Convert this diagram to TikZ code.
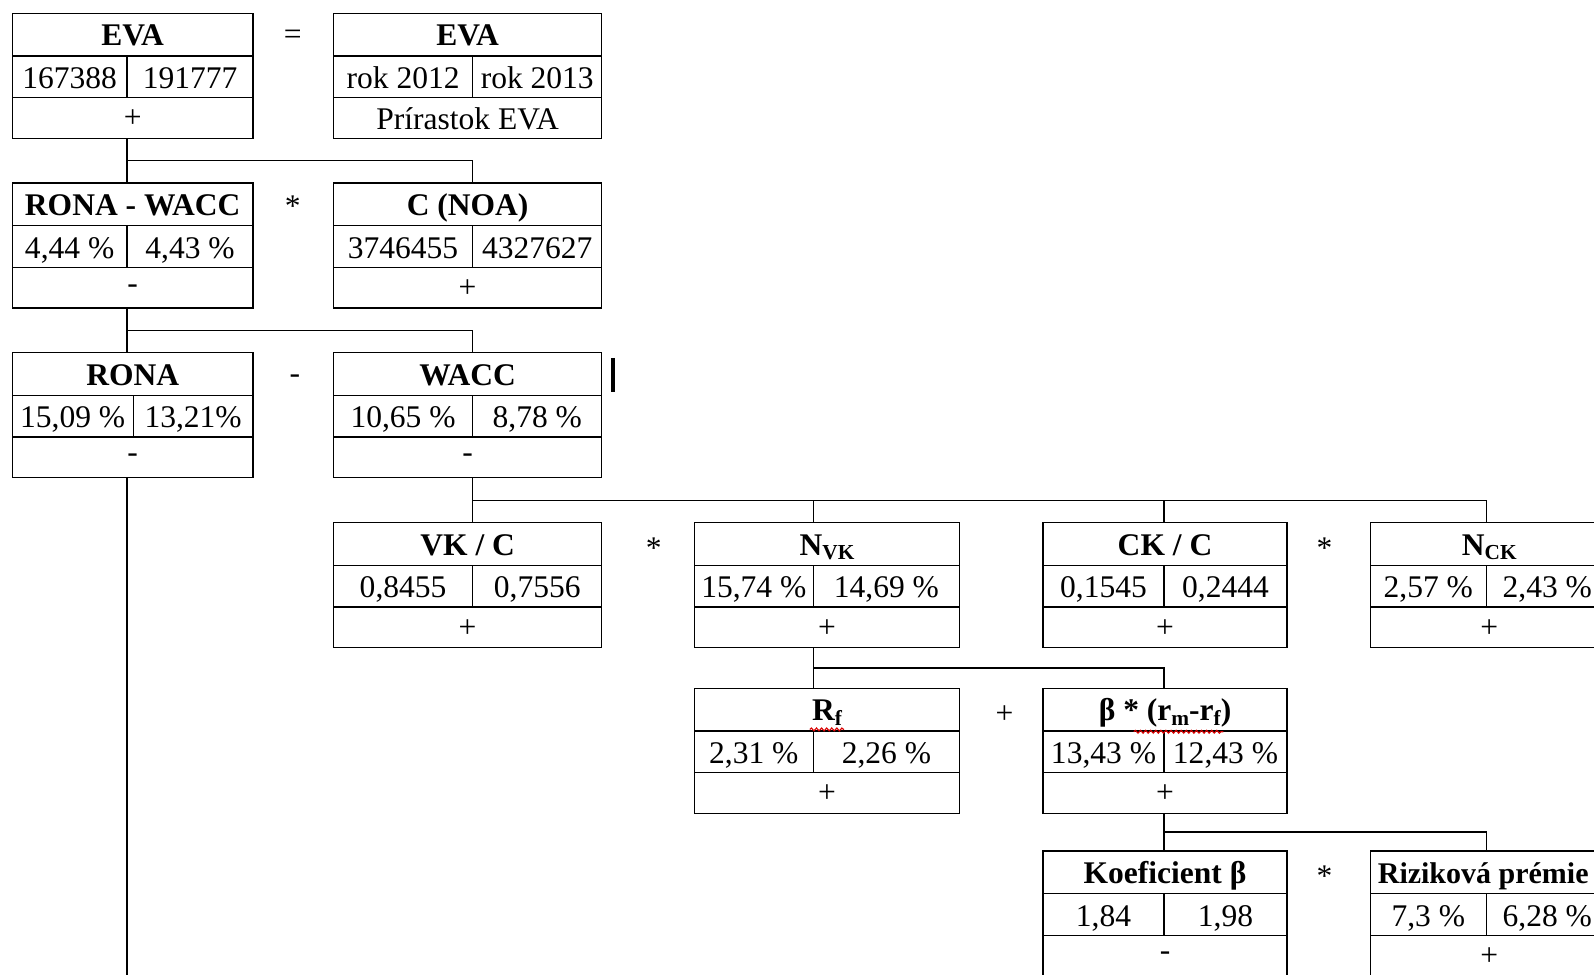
\documentclass[tikz,border=0pt]{standalone}
\usepackage{fontspec}
\setmainfont{Liberation Serif}
\usetikzlibrary{calc,decorations.pathmorphing}

\tikzset{
  frame/.style={draw, line width=1.3pt, rectangle, inner sep=0pt, outer sep=0pt, anchor=north west},
  rule/.style={line width=1.3pt},
  conn/.style={line width=1.3pt},
  ttl/.style={font=\fontsize{31}{34}\selectfont\bfseries, inner sep=0pt, anchor=base},
  val/.style={font=\fontsize{31}{34}\selectfont, inner sep=0pt, anchor=base},
  sgn/.style={font=\fontsize{31}{34}\selectfont, inner sep=0pt},
  op/.style={font=\fontsize{31}{34}\selectfont, inner sep=0pt},
  wavy/.style={red!85!black, line width=1.1pt, decorate, decoration={snake, amplitude=1.4pt, segment length=5pt}},
  cursorbar/.style={line width=3.5pt}
}

% name, x1, x2, xdiv, ytop, title, left, right, bottom
\newcommand{\ebox}[9]{%
  \node[frame, minimum width={(#3-#2)*1pt}, minimum height=123pt] (#1) at (#2,#5) {};
  \draw[rule] (#2,{#5+42}) -- (#3,{#5+42});
  \draw[rule] (#2,{#5+83}) -- (#3,{#5+83});
  \draw[rule] (#4,{#5+42}) -- (#4,{#5+83});
  \node[ttl] (#1-t) at ({(#2+#3)/2},{#5+32}) {#6};
  \node[val] (#1-l) at ({(#2+#4)/2},{#5+74}) {#7};
  \node[val] (#1-r) at ({(#4+#3)/2},{#5+74}) {#8};
  \node[sgn] (#1-b) at ({(#2+#3)/2},{#5+104}) {#9};
  \coordinate (#1-n) at (#4,#5);
  \coordinate (#1-s) at (#4,{#5+123});
}
\newcommand{\subx}[1]{\raisebox{-0.14em}{\fontsize{21}{21}\selectfont #1}}

\begin{document}
\begin{tikzpicture}[x=1pt,y=-1pt]
\clip (0,0) rectangle (1568,959);

% row 1
\ebox{b1}{12}{249}{125}{13}{EVA}{167388}{191777}{+}
\ebox{b2}{328}{592}{465}{13}{EVA}{rok 2012}{rok 2013}{Prírastok EVA}
\node[op] (o1) at (288,37) {=};

% row 2
\ebox{b3}{12}{249}{125}{180}{RONA - WACC}{4,44 \%}{4,43 \%}{-}
\ebox{b4}{328}{592}{465}{180}{C (NOA)}{3746455}{4327627}{+}
\node[op] (o2) at (288,203) {*};

% row 3
\ebox{b5}{12}{249}{131}{347}{RONA}{15,09 \%}{13,21\%}{-}
\ebox{b6}{328}{592}{465}{347}{WACC}{10,65 \%}{8,78 \%}{-}
\node[op] (o3) at (290,373) {-};
\coordinate (b5-n2) at (125,347);
\coordinate (b5-s2) at (125,470);
\coordinate (leftend) at (125,975);
\draw[cursorbar] (603,352) -- (603,386);

% row 4
\ebox{b7}{328}{592}{465}{514}{VK / C}{0,8455}{0,7556}{+}
\ebox{b8}{683}{944}{800}{514}{N\subx{VK}}{15,74 \%}{14,69 \%}{+}
\ebox{b9}{1026}{1266}{1145}{514}{CK / C}{0,1545}{0,2444}{+}
\ebox{b10}{1348}{1582}{1462}{514}{N\subx{CK}}{2,57 \%}{2,43 \%}{+}
\node[op] (o4) at (643,539) {*};
\node[op] (o5) at (1303,539) {*};

% row 5
\ebox{b11}{683}{944}{800}{677}{R\subx{f}}{2,31 \%}{2,26 \%}{+}
\ebox{b12}{1026}{1266}{1145}{677}{β * (r\subx{m}-r\subx{f})}{13,43 \%}{12,43 \%}{+}
\node[op] (o6) at (988,703) {+};

% row 6
\ebox{b13}{1026}{1266}{1145}{837}{Koeficient β}{1,84}{1,98}{-}
\ebox{b14}{1348}{1582}{1462}{837}{}{7,3 \%}{6,28 \%}{+}
\node[ttl, font=\fontsize{29.5}{33}\selectfont\bfseries] (b14-title) at (1459,869) {Riziková prémie};
\node[op] (o7) at (1303,862) {*};

% spell-check underlines
\draw[wavy] ([xshift=-2pt,yshift=-4pt]b11-t.south west) -- ([xshift=2pt,yshift=-4pt]b11-t.south east);
\draw[wavy] ([xshift=-96pt,yshift=-4pt]b12-t.south east) -- ([xshift=-8pt,yshift=-4pt]b12-t.south east);

% connectors
\draw[conn] (b1-s) -- (b3-n);
\draw[conn] ($(b1-s)!0.5!(b3-n)$) -| (b4-n);

\draw[conn] (b3-s) -- (b5-n2);
\draw[conn] ($(b3-s)!0.5!(b5-n2)$) -| (b6-n);

\draw[conn] (b5-s2) -- (leftend);

\draw[conn] (b6-s) -- (b7-n);
\draw[conn] ($(b6-s)!0.5!(b7-n)$) -| (b10-n);
\draw[conn] ($(b6-s)!0.5!(b7-n)$) -| (b8-n);
\draw[conn] ($(b6-s)!0.5!(b7-n)$) -| (b9-n);

\draw[conn] (b8-s) -- (b11-n);
\draw[conn] ($(b8-s)!0.5!(b11-n)$) -| (b12-n);

\draw[conn] (b12-s) -- (b13-n);
\draw[conn] ($(b12-s)!0.5!(b13-n)$) -| (b14-n);
\end{tikzpicture}
\end{document}
